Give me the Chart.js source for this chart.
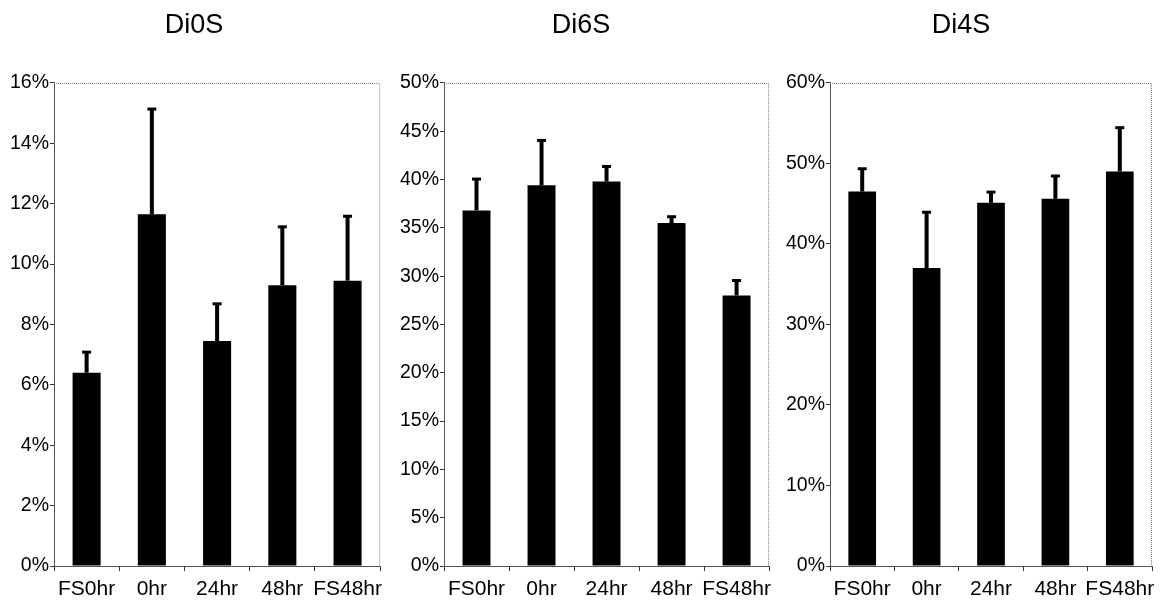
<!DOCTYPE html>
<html>
<head>
<meta charset="utf-8">
<script src="https://cdn.jsdelivr.net/npm/chart.js@4/dist/chart.umd.min.js"></script>
<style>
  body { margin: 0; background: #fff; }
  .panel { position: absolute; top: 0; height: 606px; }
</style>
</head>
<body>
<div class="panel" style="left:0;width:388px"><canvas id="c0"></canvas></div>
<div class="panel" style="left:385px;width:392px"><canvas id="c1"></canvas></div>
<div class="panel" style="left:770px;width:397px"><canvas id="c2"></canvas></div>
<script>
// Disaccharide composition (% of total), mean and upper SD
const categories = ['FS0hr', '0hr', '24hr', '48hr', 'FS48hr'];

const di0sMean = [6.4, 11.65, 7.45, 9.3, 9.45];
const di0sErr  = [0.7, 3.5, 1.25, 1.95, 2.15];

const di6sMean = [36.8, 39.4, 39.8, 35.5, 28.0];
const di6sErr  = [3.3, 4.7, 1.6, 0.7, 1.6];

const di4sMean = [46.5, 37.0, 45.1, 45.6, 49.0];
const di4sErr  = [2.9, 7.0, 1.4, 2.9, 5.5];

const FONT = "'Liberation Sans', Arial, sans-serif";

// upper-only error bars with a small cap
const errorBars = {
  id: 'errorBars',
  afterDatasetsDraw(chart, args, opts) {
    const ctx = chart.ctx;
    const y = chart.scales.y;
    const meta = chart.getDatasetMeta(0);
    ctx.save();
    ctx.fillStyle = '#000';
    meta.data.forEach((bar, i) => {
      const top = y.getPixelForValue(opts.mean[i] + opts.err[i]);
      ctx.fillRect(bar.x - 2, top, 4, bar.y - top);
      ctx.fillRect(bar.x - 4.5, top - 1, 9, 3);
    });
    ctx.restore();
  }
};

// dotted top and right edges of the plot box
const frame = {
  id: 'frame',
  beforeDatasetsDraw(chart) {
    const { ctx, chartArea: a } = chart;
    ctx.save();
    ctx.strokeStyle = '#777';
    ctx.lineWidth = 1;
    ctx.setLineDash([1, 1]);
    ctx.beginPath();
    ctx.moveTo(a.left, a.top + 0.5);
    ctx.lineTo(a.right - 0.5, a.top + 0.5);
    ctx.lineTo(a.right - 0.5, a.bottom);
    ctx.stroke();
    ctx.restore();
  }
};

function makeChart(id, title, mean, err, max, step, yWidth, padRight) {
  new Chart(document.getElementById(id), {
    type: 'bar',
    data: {
      labels: categories,
      datasets: [{
        data: mean,
        backgroundColor: '#000',
        barPercentage: 0.43,
        categoryPercentage: 1.0
      }]
    },
    plugins: [frame, errorBars],
    options: {
      responsive: true,
      maintainAspectRatio: false,
      animation: false,
      layout: { padding: { left: 0, right: padRight, top: 0, bottom: 0 } },
      plugins: {
        legend: { display: false },
        tooltip: { enabled: false },
        title: {
          display: true,
          text: title,
          color: '#000',
          font: { family: FONT, size: 27, weight: 'normal' },
          padding: { top: 9.5, bottom: 41 }
        },
        errorBars: { mean: mean, err: err }
      },
      scales: {
        x: {
          afterFit(scale) { scale.height = 40; },
          grid: { drawOnChartArea: false, tickLength: 5, color: '#333', offset: true },
          border: { color: '#555', width: 1 },
          ticks: {
            color: '#000',
            padding: 6,
            autoSkip: false,
            maxRotation: 0,
            minRotation: 0,
            font: { family: FONT, size: 21 }
          }
        },
        y: {
          min: 0,
          max: max,
          afterFit(scale) { scale.width = yWidth; },
          grid: { drawOnChartArea: false, tickLength: 4, color: '#333' },
          border: { color: '#555', width: 1 },
          ticks: {
            stepSize: step,
            color: '#000',
            padding: 1,
            font: { family: FONT, size: 19.5 },
            callback: v => v + '%'
          }
        }
      }
    }
  });
}

makeChart('c0', 'Di0S', di0sMean, di0sErr, 16, 2, 54, 0);
makeChart('c1', 'Di6S', di6sMean, di6sErr, 50, 5, 59, 0);
makeChart('c2', 'Di4S', di4sMean, di4sErr, 60, 10, 60, 15);
</script>
</body>
</html>
